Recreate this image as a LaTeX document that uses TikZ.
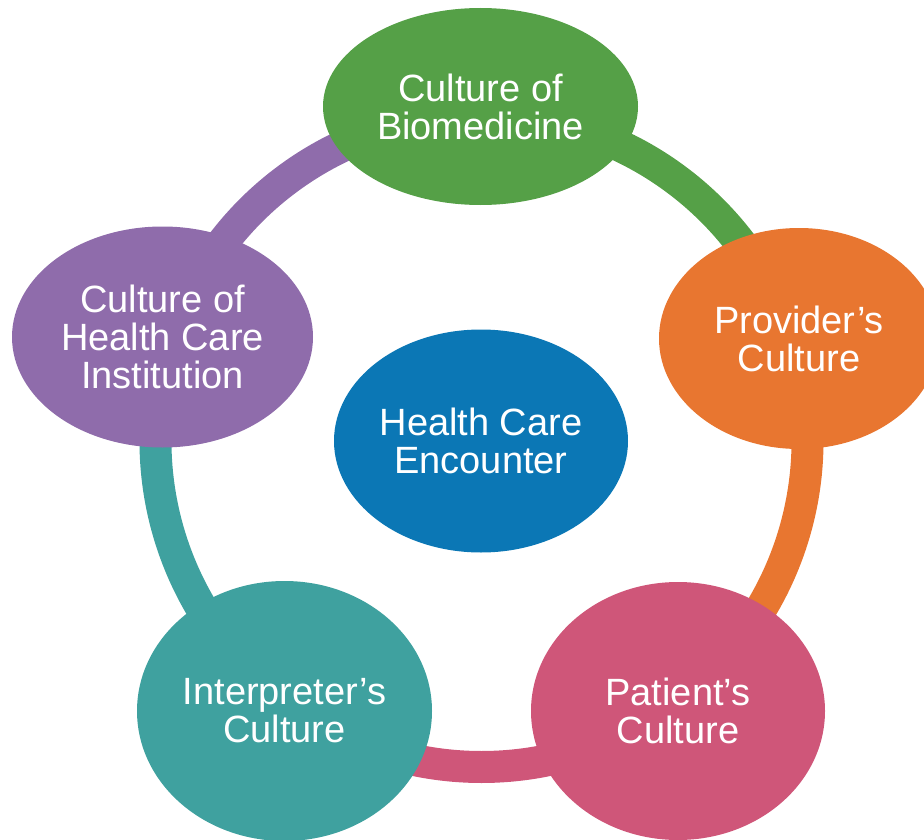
\documentclass[tikz,border=0pt]{standalone}
\usepackage{fontspec}
\setmainfont{Liberation Sans}
\usepackage{tikz}
\usetikzlibrary{shapes.geometric}
\definecolor{bioGreen}{HTML}{55A047}
\definecolor{provOrange}{HTML}{E87630}
\definecolor{patPink}{HTML}{CF5679}
\definecolor{interpTeal}{HTML}{3FA19F}
\definecolor{instPurple}{HTML}{8F6CAB}
\definecolor{encBlue}{HTML}{0B77B5}
\tikzset{Blob/.style={ellipse, fill=#1, text=white, inner sep=0pt, align=center,
                      font=\fontsize{38}{38}\selectfont},
         Ring/.style={draw=#1, line width=32pt}}

\begin{document}
\begin{tikzpicture}[x=1pt, y=-1pt]
  \useasboundingbox (0,0) rectangle (924,840);
  \coordinate (O) at (481.5,441);
  % ring segments, each in the colour of the culture it leaves
  \foreach \a/\b/\c in {-90/-18/bioGreen, -18/54/provOrange, 54/126/patPink,
                        126/198/interpTeal, 198/270/instPurple}
    \draw[Ring=\c] (O) ++(\a:326) arc[start angle=\a, end angle=\b, radius=326];
  \node[Blob=bioGreen, minimum width=315pt, minimum height=197pt] (Bio) at (480.5,106.5) {Culture of\\Biomedicine};
  \node[Blob=provOrange, minimum width=280pt, minimum height=221pt] (Prov) at (799,338.5) {Provider’s\\Culture};
  \node[Blob=patPink, minimum width=294pt, minimum height=258pt] (Pat) at (678,711) {Patient’s\\Culture};
  \node[Blob=interpTeal, minimum width=295pt, minimum height=260pt] (Interp) at (284.5,711) {Interpreter’s\\Culture};
  \node[Blob=instPurple, minimum width=301pt, minimum height=221pt] (Inst) at (162.5,337) {Culture of\\Health Care\\Institution};
  \node[Blob=encBlue, minimum width=294pt, minimum height=223pt] (Enc) at (481,441) {Health Care\\Encounter};
\end{tikzpicture}
\end{document}
